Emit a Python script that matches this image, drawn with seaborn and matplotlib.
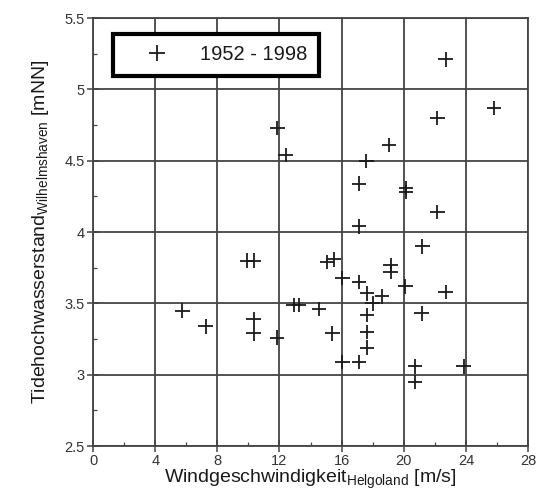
import matplotlib
matplotlib.use("Agg")
import matplotlib.pyplot as plt
import seaborn as sns
import pandas as pd
from matplotlib.ticker import MultipleLocator, FuncFormatter

wind = [5.75, 7.25, 9.9, 10.35, 10.34, 10.34, 11.87, 12.39, 11.85, 12.92, 13.25,
        14.55, 15.07, 15.5, 15.4, 16.05, 16.05, 17.12, 17.12, 17.12, 17.12, 17.6,
        17.64, 17.64, 17.64, 17.64, 18.0, 18.6, 19.05, 19.16, 19.16, 20.15, 20.15,
        20.1, 20.73, 20.73, 21.15, 21.2, 22.17, 22.17, 22.7, 22.7, 23.85, 25.8]
water = [3.45, 3.34, 3.80, 3.80, 3.39, 3.29, 4.73, 4.54, 3.26, 3.49, 3.49,
         3.46, 3.79, 3.81, 3.29, 3.68, 3.09, 4.34, 4.04, 3.65, 3.09, 4.50,
         3.57, 3.42, 3.30, 3.19, 3.50, 3.55, 4.61, 3.77, 3.72, 4.31, 4.28,
         3.62, 3.06, 2.95, 3.43, 3.90, 4.80, 4.14, 5.21, 3.58, 3.06, 4.87]
series_label = "1952 - 1998"

df = pd.DataFrame({"wind": wind, "water": water, "Zeitraum": series_label})

sns.set_theme(style="white")
plt.rcParams["font.family"] = ["Liberation Sans", "DejaVu Sans"]
plt.rcParams["mathtext.fontset"] = "custom"
plt.rcParams["mathtext.rm"] = "Liberation Sans"

fig = plt.figure(figsize=(5.41, 5.03), dpi=100)
ax = fig.add_axes([0.172, 0.113, 0.804, 0.851])

sns.scatterplot(data=df, x="wind", y="water", hue="Zeitraum", palette=["#1a1a1a"],
                marker="+", s=110, linewidth=1.3, ax=ax, zorder=3)

ax.set_xlim(0, 28)
ax.set_ylim(2.5, 5.5)
ax.xaxis.set_major_locator(MultipleLocator(4))
ax.xaxis.set_minor_locator(MultipleLocator(2))
ax.yaxis.set_major_locator(MultipleLocator(0.5))
ax.yaxis.set_minor_locator(MultipleLocator(0.25))
ax.yaxis.set_major_formatter(FuncFormatter(lambda v, p: f"{v:g}"))
ax.xaxis.set_major_formatter(FuncFormatter(lambda v, p: f"{v:g}"))

gc = "#444444"
ax.grid(True, which="major", color=gc, linewidth=1.3)
for s in ax.spines.values():
    s.set_color(gc)
    s.set_linewidth(1.3)
ax.tick_params(axis="both", which="major", direction="inout", length=8, width=1.1,
               color=gc, labelsize=10.5, labelcolor="#333333", pad=2,
               left=True, bottom=True)
ax.tick_params(axis="both", which="minor", direction="in", length=3, width=0.9,
               color=gc, left=True, bottom=True)

ax.set_xlabel(r"Windgeschwindigkeit$_{\mathrm{Helgoland}}$ [m/s]", fontsize=14,
              color="#1a1a1a", labelpad=-1)
ax.set_ylabel(r"Tidehochwasserstand$_{\mathrm{Wilhelmshaven}}$ [mNN]", fontsize=14,
              color="#1a1a1a", labelpad=10)

leg = ax.legend(loc="upper left", bbox_to_anchor=(0.045, 0.962), fontsize=14.5,
                frameon=True, fancybox=False, borderpad=0.55, handlelength=3.3,
                handletextpad=0.5, markerscale=1.1, borderaxespad=0)
leg.get_frame().set_edgecolor("black")
leg.get_frame().set_linewidth(3)
leg.get_frame().set_facecolor("white")
leg.get_frame().set_alpha(1)
leg.set_zorder(5)
for t in leg.get_texts():
    t.set_color("#1a1a1a")

fig.savefig("out.png", dpi=100)
